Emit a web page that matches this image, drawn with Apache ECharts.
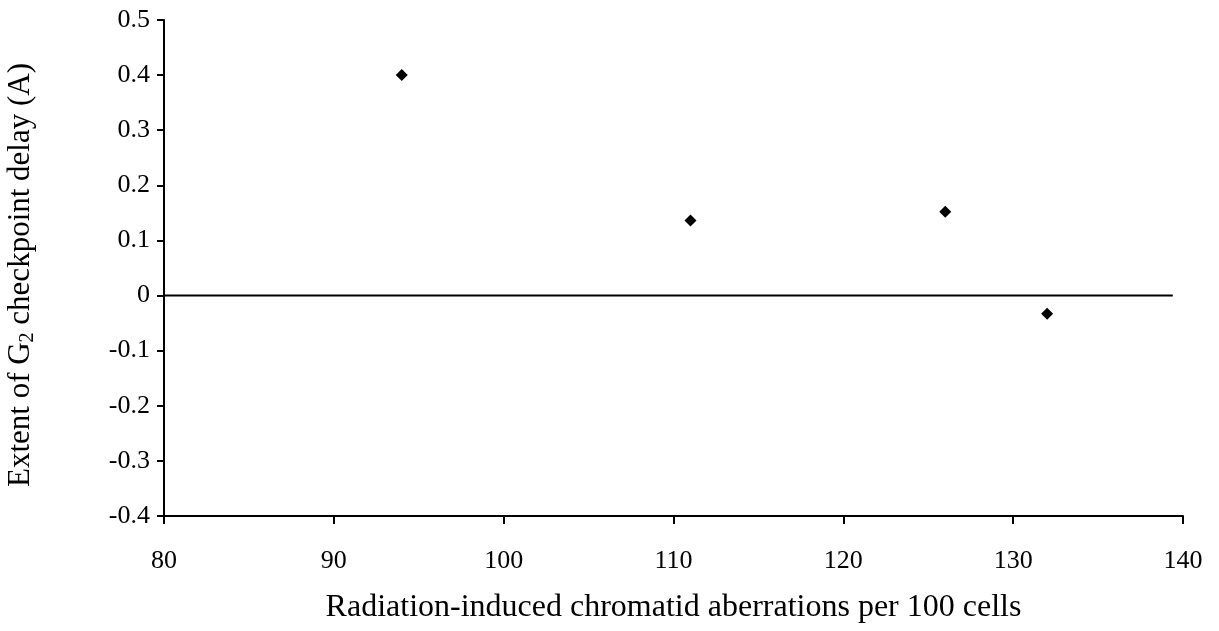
<!DOCTYPE html>
<html><head><meta charset="utf-8">
<script src="https://cdn.jsdelivr.net/npm/echarts@6/dist/echarts.min.js"></script>
<style>html,body{margin:0;padding:0;background:#fff}#c{width:1219px;height:631px}</style>
</head><body><div id="c"></div>
<script>
const xValues = [94, 111, 126, 132];
const yValues = [0.4, 0.136, 0.152, -0.033];
const zeroLineX = [80, 139.4];
const xTitle = 'Radiation-induced chromatid aberrations per 100 cells';
const yTitle = 'Extent of G{sub|2} checkpoint delay (A)';

const font = 'Liberation Serif';
const chart = echarts.init(document.getElementById('c'), null, {renderer: 'canvas'});
chart.setOption({
  animation: false,
  backgroundColor: '#fff',
  grid: {left: 164, right: 36, top: 20, bottom: 115, containLabel: false, outerBoundsMode: 'none'},
  xAxis: {
    type: 'value', min: 80, max: 140, interval: 10,
    axisLine: {onZero: false, lineStyle: {color: '#000', width: 2}},
    axisTick: {inside: false, length: 8, lineStyle: {color: '#000', width: 2}},
    axisLabel: {color: '#000', fontFamily: font, fontSize: 26, margin: 32},
    splitLine: {show: false},
    name: xTitle, nameLocation: 'middle', nameGap: 76,
    nameTextStyle: {color: '#000', fontFamily: font, fontSize: 32}
  },
  yAxis: {
    type: 'value', min: -0.4, max: 0.5, interval: 0.1,
    axisLine: {onZero: false, lineStyle: {color: '#000', width: 2}},
    axisTick: {inside: false, length: 7, lineStyle: {color: '#000', width: 2}},
    axisLabel: {color: '#000', fontFamily: font, fontSize: 26, margin: 14,
      formatter: v => Math.abs(v) < 1e-9 ? '0' : v.toFixed(1)},
    splitLine: {show: false},
    name: yTitle, nameLocation: 'middle', nameGap: 126, nameRotate: 90,
    nameTextStyle: {color: '#000', fontFamily: font, fontSize: 31, padding: [0, 14, 0, 0],
      rich: {sub: {fontFamily: font, fontSize: 20, color: '#000', verticalAlign: 'bottom', padding: [14, 0, 0, 0]}}}
  },
  series: [
    {type: 'line', data: zeroLineX.map(x => [x, 0]), symbol: 'none',
     lineStyle: {color: '#000', width: 2}, silent: true},
    {type: 'scatter', data: xValues.map((x, i) => [x, yValues[i]]),
     symbol: 'diamond', symbolSize: [12, 12], itemStyle: {color: '#000', opacity: 1}}
  ]
});
</script></body></html>
